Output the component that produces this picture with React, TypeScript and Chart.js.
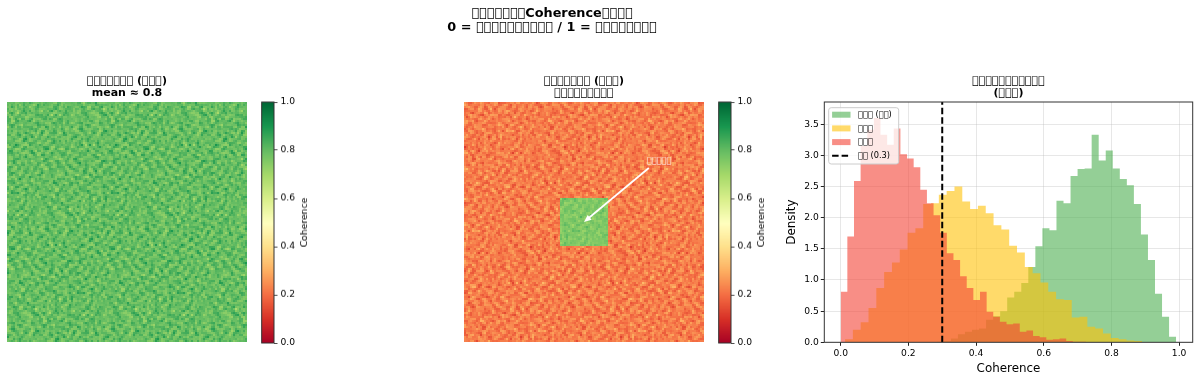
import React, { useEffect, useRef } from "react";
import { Chart, registerables } from "chart.js";

Chart.register(...registerables);
Chart.defaults.font.family = "'DejaVu Sans'";
Chart.defaults.color = "#000";

const T = "\u{F0000}";
const t = (n: number) => T.repeat(n);

const suptitleLines = [`${t(7)}Coherence${t(4)}`, `0 = ${t(10)} / 1 = ${t(8)}`];
const panel1Title = [`${t(7)} (${t(3)})`, "mean ≈ 0.8"];
const panel2Title = [`${t(7)} (${t(3)})`, t(9)];
const panel3Title = [t(11), `(${t(3)})`];
const annotationText = t(5);
const legendLabels = [`${t(3)} (${t(2)})`, t(3), t(3), `${t(2)} (0.3)`];

const cmapStops = ["#a50026", "#d73027", "#f46d43", "#fdae61", "#fee08b", "#ffffbf", "#d9ef8b", "#a6d96a", "#66bd63", "#1a9850", "#006837"];
const colorbarTicks = [0, 0.2, 0.4, 0.6, 0.8, 1];
const histXTicks = [0, 0.2, 0.4, 0.6, 0.8, 1];
const histYTicks = [0, 0.5, 1, 1.5, 2, 2.5, 3, 3.5];

const greenStart = 0.284;
const greenWidth = 0.0208;
const greenBins = [0.01, 0.02, 0.06, 0.13, 0.17, 0.2, 0.22, 0.36, 0.42, 0.5, 0.72, 0.81, 0.95, 1.21, 1.54, 1.83, 1.8, 2.27, 2.23, 2.67, 2.78, 2.79, 3.33, 2.92, 3.08, 2.79, 2.62, 2.52, 2.22, 1.73, 1.32, 0.78, 0.41, 0.09];
const yellowStart = 0.0128;
const yellowWidth = 0.0231;
const yellowBins = [0.05, 0.2, 0.32, 0.55, 0.87, 1.13, 1.28, 1.49, 1.76, 1.83, 2.22, 2.23, 2.37, 2.43, 2.5, 2.26, 2.14, 2.19, 2.07, 1.88, 1.81, 1.55, 1.44, 1.21, 1.11, 0.96, 0.81, 0.69, 0.68, 0.4, 0.41, 0.25, 0.22, 0.14, 0.07, 0.05, 0.03, 0.02];
const redStart = 0;
const redWidth = 0.0196;
const redBins = [0.81, 1.7, 2.59, 3.15, 3.41, 3.6, 3.33, 3.17, 3.43, 3.02, 2.95, 2.81, 2.45, 2.23, 2.04, 1.76, 1.43, 1.32, 1.06, 0.87, 0.68, 0.81, 0.49, 0.41, 0.33, 0.29, 0.3, 0.17, 0.19, 0.1, 0.08, 0.04, 0.05, 0.06, 0.02, 0.01, 0.01];
const threshold = 0.3;

const noiseRows = [
"52749136085274913608317520946283714096528391740652",
"38160472951963058274691428530716294853017462985316",
"71593820647205186439052763918437160529846135072984",
"26480195374618392750843196207259483617392048615730",
"94027351862730564128175938460861702934561728394601",
"15836027493592817046329401675382946105738460152973",
"60974218358046293571860257314956031827495132806749",
"83251694070713485926470386129247518360629574031285",
"47038516921358260749519642873180634295708316952460",
"29615740836492071538286015749364827150394681207356",
"75102968345860739142603847291095162387425096813724",
"18469230574127586394071956382746305918637240519683",
"53790481261935048627814329056182794036158972340617",
"02647193859368172504963718245503821649702415836091",
"96351827040582964173250864197327160459383627094158",
"41780352696241730985176293504816537024926158730249",
"68023975148670351842309675128935482761094307561982",
"35916087423189427650581340762670319548263794120635",
"80274561399456218037492817635124796803517260948371",
"17548230966031875924607591342851640329748935216084",
"92463071855728340169231674890462917583016248579303",
"46817925301694752830178945026373608149523760184295",
"03529684172380619547632018794518235746901892357416",
"71295340687142863095784356120967041582364107628953",
"58640217933765029418950267341283796420518936470125",
"24973860515098347162016823957640152839647520398761",
"69182537042647910385739564082915638074291385610472",
"30756148298013562794251807369472903165748026953184",
"85027391465492738016478321506038247956130762489503",
"12649583707361905248930756214785169320487519260378",
"97386012541820467395162049873261504798352648031796",
"40158736926579128403786915340492637185096230574812",
"63921470852340695127543208769158720346819475263960",
"28574096137918532640096371825603948571248036719425",
"75310862491602784935218647093726185240967513860247",
"09467325186759310482675190432841306972583142790658",
"51893640728024156973408527361695472016395780426139",
"36702914850486739201963842015370628154720396184572",
"82145097363971520846125706948215439867043152976830",
"14690578234230968715490361827769103528486709312546",
"79358240616850423197732984560142875630192457680923",
"20867139545196370824061579238408561973524890136274",
"93514682700736291548349206715862943051768324905186",
"46029753188519087362812743096137206489351062748395",
"68271304959042673815563801472590738126495817362041",
"31795846027361840529097362584914056273816940523768",
"05482971364928517630721459803267349850172638490157",
"87136025496075321849356018247680912547360394825716",
"42963718053481690275908427361153786402915670138249",
"70518394266237048591164935720849523176048291367508",
];

const GRID = 120;

function hexToRgb(h: string) {
  return [parseInt(h.slice(1, 3), 16), parseInt(h.slice(3, 5), 16), parseInt(h.slice(5, 7), 16)];
}
const stopRgb = cmapStops.map(hexToRgb);
function cmap(v: number) {
  const p = Math.max(0, Math.min(1, v)) * (stopRgb.length - 1);
  const i = Math.min(stopRgb.length - 2, Math.floor(p));
  const f = p - i;
  const c = stopRgb[i].map((a, k) => Math.round(a + (stopRgb[i + 1][k] - a) * f));
  return `rgb(${c[0]},${c[1]},${c[2]})`;
}

function histLine(start: number, width: number, bins: number[]) {
  const pts = [{ x: start, y: 0 }];
  bins.forEach((b, i) => pts.push({ x: +(start + i * width).toFixed(4), y: b }));
  pts.push({ x: +(start + bins.length * width).toFixed(4), y: 0 });
  return pts;
}

const framePlugin = {
  id: "frame",
  afterDraw(chart: any) {
    const a = chart.chartArea, c = chart.ctx;
    c.save();
    c.strokeStyle = "#333";
    c.lineWidth = 1;
    c.strokeRect(a.left, a.top, a.right - a.left, a.bottom - a.top);
    c.restore();
  },
};

function digitAt(r: number, q: number) {
  const n = noiseRows.length;
  const row = noiseRows[r % n];
  return +row[(q + Math.floor(r / n) * 17) % row.length] - 4.5;
}

// the reference image was resampled, so each cell is read as a small neighbourhood of the digit grid
function smoothAt(r: number, q: number) {
  return (digitAt(r, q) + digitAt(r, q + 1) + digitAt(r + 1, q) + digitAt(r + 1, q + 1)) / 4;
}

function heatPoints(base: number, amp: number, shift: number, patch?: { lo: number; hi: number; base: number; amp: number }) {
  const pts: any[] = [], colors: string[] = [];
  for (let r = 0; r < GRID; r++) {
    for (let q = 0; q < GRID; q++) {
      const d = smoothAt(r + shift, q + shift);
      const inPatch = patch && r >= patch.lo && r < patch.hi && q >= patch.lo && q < patch.hi;
      const v = inPatch ? patch!.base + d * patch!.amp : base + d * amp;
      pts.push({ x: q + 0.5, y: r + 0.5 });
      colors.push(cmap(v));
    }
  }
  return { pts, colors };
}

function heatChart(cv: HTMLCanvasElement, title: string[], data: { pts: any[]; colors: string[] }, extra: any[]) {
  return new Chart(cv, {
    type: "scatter",
    data: {
      datasets: [{ data: data.pts, pointStyle: "rect", pointRadius: 1.4143, pointBorderWidth: 0, pointBackgroundColor: data.colors, showLine: false } as any],
    },
    options: {
      animation: false, responsive: false, events: [],
      layout: { padding: 0, autoPadding: false },
      scales: { x: { type: "linear", min: 0, max: GRID, display: false }, y: { type: "linear", min: 0, max: GRID, reverse: true, display: false } },
      plugins: {
        legend: { display: false }, tooltip: { enabled: false },
        title: { display: true, text: title, font: { size: 11, weight: "bold", lineHeight: 1.15 }, color: "#000", padding: { top: 2.5, bottom: 2.2 } },
      },
    } as any,
    plugins: extra,
  });
}

const annotationPlugin = {
  id: "arrowNote",
  afterDatasetsDraw(chart: any) {
    const { x, y } = chart.scales, c = chart.ctx;
    const f = GRID / 100;
    const hx = x.getPixelForValue(50 * f), hy = y.getPixelForValue(50 * f);
    const tx = x.getPixelForValue(77 * f), ty = y.getPixelForValue(27.5 * f);
    const ang = Math.atan2(hy - ty, hx - tx);
    c.save();
    c.strokeStyle = "#fff"; c.fillStyle = "#fff"; c.lineWidth = 1.8;
    c.beginPath(); c.moveTo(tx, ty); c.lineTo(hx - 5 * Math.cos(ang), hy - 5 * Math.sin(ang)); c.stroke();
    c.beginPath(); c.moveTo(hx, hy);
    c.lineTo(hx - 8 * Math.cos(ang - 0.4), hy - 8 * Math.sin(ang - 0.4));
    c.lineTo(hx - 8 * Math.cos(ang + 0.4), hy - 8 * Math.sin(ang + 0.4));
    c.closePath(); c.fill();
    c.font = "8.3px 'DejaVu Sans'"; c.textAlign = "center"; c.textBaseline = "middle";
    c.fillStyle = "rgba(255,255,255,0.9)";
    c.fillText(annotationText, x.getPixelForValue(81.3 * f), y.getPixelForValue(24.5 * f));
    c.restore();
  },
};

function colorbarChart(cv: HTMLCanvasElement) {
  const levels = Array.from({ length: 241 }, (_, i) => i / 240);
  const sideLabel = {
    id: "sideLabel",
    afterDraw(chart: any) {
      const c = chart.ctx, a = chart.chartArea;
      c.save();
      c.translate(a.right + 31, (a.top + a.bottom) / 2);
      c.rotate(-Math.PI / 2);
      c.font = "9.17px 'DejaVu Sans'"; c.textAlign = "center"; c.textBaseline = "middle"; c.fillStyle = "#000";
      c.fillText("Coherence", 0, 0);
      c.restore();
    },
  };
  return new Chart(cv, {
    type: "bar",
    data: {
      datasets: [{ data: levels.map((v) => ({ x: 1, y: v })), backgroundColor: levels.map(cmap), barThickness: 1.6, borderWidth: 0 } as any],
    },
    options: {
      indexAxis: "y", animation: false, responsive: false, events: [],
      layout: { padding: { left: 6.7, top: 12, bottom: 10 } },
      scales: {
        x: { type: "linear", min: 0, max: 1, display: false },
        y: {
          type: "linear", position: "right", min: 0, max: 1, offset: false,
          afterFit: (s: any) => { s.width = 46; },
          afterBuildTicks: (s: any) => { s.ticks = colorbarTicks.map((value) => ({ value })); },
          grid: { offset: false, drawOnChartArea: false, tickLength: 3.5, tickColor: "#222", tickWidth: 0.8 },
          border: { display: false },
          ticks: { font: { size: 9.17 }, color: "#000", padding: 3, autoSkip: false, callback: (v: any) => (+v).toFixed(1) },
        },
      },
      plugins: { legend: { display: false }, tooltip: { enabled: false }, title: { display: false } },
    } as any,
    plugins: [framePlugin, sideLabel],
  });
}

const GREEN = "rgba(76,175,80,0.6)", YELLOW = "rgba(255,193,7,0.6)", RED = "rgba(244,67,54,0.6)";

const histLegend = {
  id: "histLegend",
  afterDraw(chart: any) {
    const c = chart.ctx;
    const l = 828.7 - 784, tp = 107.7 - 72, w = 70, h = 56.3;
    c.save();
    c.fillStyle = "rgba(255,255,255,0.8)"; c.strokeStyle = "#ccc"; c.lineWidth = 1;
    c.beginPath(); c.roundRect(l, tp, w, h, 2.5); c.fill(); c.stroke();
    const rows = [7, 20.7, 34.4, 48.1];
    const cols = [GREEN, YELLOW, RED];
    c.font = "8.25px 'DejaVu Sans'"; c.textBaseline = "middle"; c.textAlign = "left";
    rows.forEach((dy, i) => {
      const yy = tp + dy;
      if (i < 3) { c.fillStyle = cols[i]; c.fillRect(l + 3.4, yy - 3, 18.4, 6); }
      else { c.strokeStyle = "#000"; c.lineWidth = 1.9; c.setLineDash([6.5, 3]); c.beginPath(); c.moveTo(l + 3.4, yy); c.lineTo(l + 21.8, yy); c.stroke(); c.setLineDash([]); }
      c.fillStyle = "#000"; c.fillText(legendLabels[i], l + 29.3, yy);
    });
    c.restore();
  },
};

function histChart(cv: HTMLCanvasElement) {
  const fillDs = (label: string, data: any[], color: string, order: number) => ({ label, data, order, stepped: true, fill: "origin", backgroundColor: color, borderWidth: 0, pointRadius: 0, borderColor: "transparent" });
  return new Chart(cv, {
    type: "line",
    data: {
      datasets: [
        fillDs(legendLabels[0], histLine(greenStart, greenWidth, greenBins), GREEN, 3),
        fillDs(legendLabels[1], histLine(yellowStart, yellowWidth, yellowBins), YELLOW, 2),
        fillDs(legendLabels[2], histLine(redStart, redWidth, redBins), RED, 1),
        { label: legendLabels[3], order: 0, data: [{ x: threshold, y: 0 }, { x: threshold, y: 3.857 }], borderColor: "#000", borderWidth: 2, borderDash: [6.5, 3], pointRadius: 0, fill: false },
      ] as any,
    },
    options: {
      animation: false, responsive: false, events: [],
      layout: { padding: { right: 7.3 }, autoPadding: false },
      scales: {
        x: {
          type: "linear", min: -0.0485, max: 1.0402,
          afterFit: (s: any) => { s.height = 39.7; },
          afterBuildTicks: (s: any) => { s.ticks = histXTicks.map((value) => ({ value })); },
          grid: { color: "rgba(176,176,176,0.3)", lineWidth: 1, tickColor: "#222", tickLength: 3.5 },
          border: { display: false },
          ticks: { font: { size: 9.17 }, color: "#000", padding: 2, maxRotation: 0, callback: (v: any) => (+v).toFixed(1) },
          title: { display: true, text: "Coherence", font: { size: 11.9 }, color: "#000", padding: { top: 1, bottom: 6 } },
        },
        y: {
          type: "linear", min: 0, max: 3.857,
          afterFit: (s: any) => { s.width = 40.3; },
          afterBuildTicks: (s: any) => { s.ticks = histYTicks.map((value) => ({ value })); },
          grid: { color: "rgba(176,176,176,0.3)", lineWidth: 1, tickColor: "#222", tickLength: 3.5 },
          border: { display: false },
          ticks: { font: { size: 9.17 }, color: "#000", padding: 2, callback: (v: any) => (+v).toFixed(1) },
          title: { display: true, text: "Density", font: { size: 11.9 }, color: "#000", padding: { top: 1, bottom: 0 } },
        },
      },
      plugins: {
        legend: { display: false }, tooltip: { enabled: false },
        title: { display: true, fullSize: false, text: panel3Title, font: { size: 11, weight: "bold", lineHeight: 1.15 }, color: "#000", padding: { top: 2.5, bottom: 2.2 } },
      },
    } as any,
    plugins: [framePlugin, histLegend],
  });
}

function suptitleChart(cv: HTMLCanvasElement) {
  return new Chart(cv, {
    type: "bar",
    data: { labels: [], datasets: [] },
    options: {
      animation: false, responsive: false, events: [],
      scales: { x: { display: false }, y: { display: false } },
      plugins: {
        legend: { display: false }, tooltip: { enabled: false },
        title: { display: true, text: suptitleLines, font: { size: 12.84, weight: "bold", lineHeight: 1.13 }, color: "#000", padding: { top: 6, bottom: 0 } },
      },
    } as any,
  });
}

const boxes = {
  s: { left: 252, top: 0, width: 600, height: 40 },
  p1: { left: 7, top: 72, width: 240, height: 270 },
  c1: { left: 255, top: 90, width: 65, height: 262.5 },
  p2: { left: 464, top: 72, width: 240, height: 270 },
  c2: { left: 712, top: 90, width: 65, height: 262.5 },
  h: { left: 784, top: 72, width: 416, height: 310 },
};

function Cv({ box, r }: { box: any; r: any }) {
  return <canvas ref={r} width={box.width} height={box.height} style={{ position: "absolute", left: box.left, top: box.top, width: box.width, height: box.height }} />;
}

export default function App() {
  const s = useRef<HTMLCanvasElement>(null);
  const p1 = useRef<HTMLCanvasElement>(null), c1 = useRef<HTMLCanvasElement>(null);
  const p2 = useRef<HTMLCanvasElement>(null), c2 = useRef<HTMLCanvasElement>(null);
  const h = useRef<HTMLCanvasElement>(null);
  useEffect(() => {
    const charts = [
      suptitleChart(s.current!),
      heatChart(p1.current!, panel1Title, heatPoints(0.8, 0.032, 0), []),
      colorbarChart(c1.current!),
      heatChart(p2.current!, panel2Title, heatPoints(0.225, 0.03, 31, { lo: 48, hi: 72, base: 0.76, amp: 0.02 }), [annotationPlugin]),
      colorbarChart(c2.current!),
      histChart(h.current!),
    ];
    return () => charts.forEach((c) => c.destroy());
  }, []);
  return (
    <div style={{ position: "fixed", left: 0, top: 0, width: 1200, height: 382, background: "#fff", overflow: "hidden" }}>
      <Cv box={boxes.s} r={s} />
      <Cv box={boxes.p1} r={p1} />
      <Cv box={boxes.c1} r={c1} />
      <Cv box={boxes.p2} r={p2} />
      <Cv box={boxes.c2} r={c2} />
      <Cv box={boxes.h} r={h} />
    </div>
  );
}
